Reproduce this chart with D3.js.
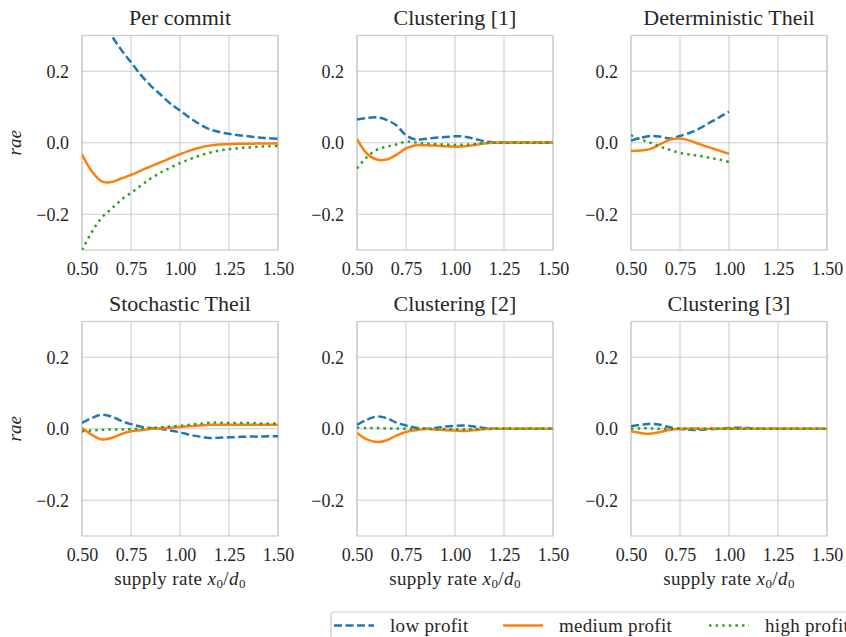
<!DOCTYPE html>
<html>
<head>
<meta charset="utf-8">
<script src="https://cdn.jsdelivr.net/npm/d3@7"></script>
<style>
  body { margin: 0; background: #fff; }
  svg, svg text { font-family: "Liberation Serif", "DejaVu Serif", serif; }
  .grid line { stroke: #cccccc; stroke-width: 1.1; }
</style>
</head>
<body>
<svg id="chart" width="846" height="637"></svg>
<script>
// x positions (supply rate x0/d0)
const xFull = [0.50, 0.55, 0.60, 0.65, 0.70, 0.75, 0.80, 0.85, 0.90, 0.95, 1.00,
               1.05, 1.10, 1.15, 1.20, 1.25, 1.30, 1.35, 1.40, 1.45, 1.50];
const xHalf = [0.50, 0.55, 0.60, 0.65, 0.70, 0.75, 0.80, 0.85, 0.90, 0.95, 1.00];

const xTicks = [0.50, 0.75, 1.00, 1.25, 1.50];
const yTicks = [-0.2, 0.0, 0.2];
const seriesNames = ["low profit", "medium profit", "high profit"];
const titles = ["Per commit", "Clustering [1]", "Deterministic Theil",
                "Stochastic Theil", "Clustering [2]", "Clustering [3]"];

// Per commit
const perCommitLow  = [0.43, 0.39, 0.34, 0.30, 0.26, 0.225, 0.19, 0.16, 0.135, 0.11, 0.09,
                       0.07, 0.052, 0.038, 0.030, 0.025, 0.021, 0.018, 0.015, 0.013, 0.011];
const perCommitMed  = [-0.032, -0.080, -0.108, -0.110, -0.100, -0.090, -0.078, -0.066, -0.055, -0.043, -0.032,
                       -0.022, -0.014, -0.008, -0.005, -0.004, -0.003, -0.003, -0.002, -0.002, -0.002];
const perCommitHigh = [-0.30, -0.25, -0.21, -0.185, -0.16, -0.14, -0.12, -0.10, -0.084, -0.07, -0.057,
                       -0.046, -0.036, -0.028, -0.022, -0.018, -0.015, -0.013, -0.011, -0.010, -0.009];

// Clustering [1]
const clust1Low  = [0.065, 0.069, 0.071, 0.064, 0.049, 0.021, 0.009, 0.011, 0.014, 0.016, 0.018,
                    0.017, 0.011, 0.004, 0.001, 0.001, 0.001, 0.001, 0.001, 0.001, 0.001];
const clust1Med  = [0.010, -0.030, -0.047, -0.047, -0.034, -0.016, -0.007, -0.007, -0.008, -0.010, -0.011,
                    -0.010, -0.006, -0.002, 0.000, 0.000, 0.000, 0.000, 0.000, 0.000, 0.000];
const clust1High = [-0.072, -0.040, -0.020, -0.011, -0.005, 0.003, 0.001, -0.002, -0.004, -0.005, -0.006,
                    -0.005, -0.004, -0.001, 0.000, 0.000, 0.000, 0.000, 0.000, 0.000, 0.000];

// Deterministic Theil (only up to 1.0)
const detLow  = [0.006, 0.014, 0.019, 0.017, 0.012, 0.019, 0.028, 0.040, 0.056, 0.071, 0.087];
const detMed  = [-0.023, -0.022, -0.017, -0.004, 0.009, 0.012, 0.006, -0.004, -0.013, -0.022, -0.031];
const detHigh = [0.021, 0.009, 0.000, -0.011, -0.020, -0.028, -0.033, -0.037, -0.042, -0.047, -0.054];

// Stochastic Theil
const stochLow  = [0.016, 0.030, 0.039, 0.034, 0.022, 0.013, 0.006, 0.002, 0.000, -0.005, -0.010,
                   -0.017, -0.022, -0.026, -0.025, -0.024, -0.023, -0.022, -0.022, -0.021, -0.021];
const stochMed  = [0.002, -0.017, -0.030, -0.026, -0.015, -0.007, -0.004, -0.001, 0.001, 0.003, 0.005,
                   0.007, 0.009, 0.011, 0.011, 0.011, 0.011, 0.011, 0.011, 0.011, 0.011];
const stochHigh = [-0.007, -0.005, -0.003, -0.002, -0.002, -0.001, 0.000, 0.002, 0.004, 0.006, 0.008,
                   0.011, 0.014, 0.017, 0.017, 0.016, 0.016, 0.016, 0.015, 0.015, 0.015];

// Clustering [2]
const clust2Low  = [0.011, 0.025, 0.034, 0.030, 0.017, 0.009, 0.003, 0.000, 0.002, 0.006, 0.008,
                    0.009, 0.006, 0.002, 0.000, 0.000, 0.000, 0.000, 0.000, 0.000, 0.000];
const clust2Med  = [-0.012, -0.030, -0.037, -0.033, -0.019, -0.009, -0.004, -0.001, -0.002, -0.004, -0.005,
                    -0.006, -0.004, -0.001, 0.000, 0.000, 0.000, 0.000, 0.000, 0.000, 0.000];
const clust2High = [0.003, 0.002, 0.002, 0.001, 0.001, 0.000, 0.000, 0.000, -0.001, -0.001, -0.002,
                    -0.002, -0.001, 0.000, 0.000, 0.000, 0.000, 0.000, 0.000, 0.000, 0.000];

// Clustering [3]
const clust3Low  = [0.007, 0.011, 0.014, 0.011, 0.004, -0.001, -0.003, -0.003, -0.001, 0.000, 0.002,
                    0.003, 0.002, 0.000, 0.000, 0.000, 0.000, 0.000, 0.000, 0.000, 0.000];
const clust3Med  = [-0.007, -0.012, -0.014, -0.009, -0.003, 0.000, 0.001, 0.000, 0.000, 0.000, 0.000,
                    0.000, 0.000, 0.000, 0.000, 0.000, 0.000, 0.000, 0.000, 0.000, 0.000];
const clust3High = [0.000, 0.001, 0.001, 0.000, 0.000, 0.000, 0.000, 0.000, 0.000, 0.000, 0.000,
                    0.000, 0.000, 0.000, 0.000, 0.000, 0.000, 0.000, 0.000, 0.000, 0.000];

const panels = [
  {title: titles[0], x: xFull, ys: [perCommitLow, perCommitMed, perCommitHigh]},
  {title: titles[1], x: xFull, ys: [clust1Low, clust1Med, clust1High]},
  {title: titles[2], x: xHalf, ys: [detLow, detMed, detHigh]},
  {title: titles[3], x: xFull, ys: [stochLow, stochMed, stochHigh]},
  {title: titles[4], x: xFull, ys: [clust2Low, clust2Med, clust2High]},
  {title: titles[5], x: xFull, ys: [clust3Low, clust3Med, clust3High]}
];

const colors = ["#1f77b4", "#ff7f0e", "#2ca02c"];
const dashes = ["8,3.5", null, "2.5,4.1"];
const textColor = "#262626";

const svg = d3.select("#chart");
const panelW = 196, panelH = 214.5;
const lefts = [82, 357, 631];
const tops = [35.5, 321.5];

const x = d3.scaleLinear().domain([0.5, 1.5]).range([0, panelW]);
const y = d3.scaleLinear().domain([-0.3, 0.3]).range([panelH, 0]);
const fmtY = v => (v < 0 ? "\u2212" : "") + Math.abs(v).toFixed(1);

panels.forEach(function(p, i) {
  const col = i % 3, row = Math.floor(i / 3);
  const g = svg.append("g").attr("transform", "translate(" + lefts[col] + "," + tops[row] + ")");

  g.append("clipPath").attr("id", "clip" + i)
    .append("rect").attr("width", panelW).attr("height", panelH);

  // grid
  const grid = g.append("g").attr("class", "grid");
  grid.selectAll(".vx").data(xTicks).enter().append("line")
    .attr("x1", d => x(d)).attr("x2", d => x(d)).attr("y1", 0).attr("y2", panelH);
  grid.selectAll(".hy").data(yTicks).enter().append("line")
    .attr("x1", 0).attr("x2", panelW).attr("y1", d => y(d)).attr("y2", d => y(d));
  g.append("rect").attr("width", panelW).attr("height", panelH)
    .attr("fill", "none").attr("stroke", "#cccccc").attr("stroke-width", 1.25);

  // axes labels
  const xAxis = g.append("g").attr("transform", "translate(0," + panelH + ")")
    .call(d3.axisBottom(x).tickValues(xTicks).tickFormat(d3.format(".2f")).tickSize(0).tickPadding(12));
  const yAxis = g.append("g")
    .call(d3.axisLeft(y).tickValues(yTicks).tickFormat(fmtY).tickSize(0).tickPadding(13));
  [xAxis, yAxis].forEach(a => {
    a.attr("font-family", null).attr("font-size", null);
    a.select(".domain").remove();
    a.selectAll("text").style("font-family", "Liberation Serif").style("font-size", "18px")
      .attr("fill", textColor);
  });

  // title
  g.append("text").attr("x", panelW / 2).attr("y", -11)
    .attr("text-anchor", "middle").style("font-size", "22px").attr("fill", textColor)
    .text(p.title);

  // lines
  const lines = g.append("g").attr("clip-path", "url(#clip" + i + ")");
  p.ys.forEach(function(vals, s) {
    const pts = vals.map((v, k) => [p.x[k], v]);
    lines.append("path")
      .datum(pts)
      .attr("fill", "none")
      .attr("stroke", colors[s])
      .attr("stroke-width", 2.5)
      .attr("stroke-dasharray", dashes[s])
      .attr("d", d3.line().x(d => x(d[0])).y(d => y(d[1])).curve(d3.curveCatmullRom.alpha(0.5)));
  });

  if (col === 0) {
    g.append("text")
      .attr("transform", "translate(-61," + (panelH / 2) + ") rotate(-90)")
      .attr("text-anchor", "middle").style("font-size", "19px").attr("font-style", "italic")
      .attr("fill", textColor).text("rae");
  }
  if (row === 1) {
    const t = g.append("text").attr("x", panelW / 2).attr("y", panelH + 49)
      .attr("text-anchor", "middle").style("font-size", "19px").attr("fill", textColor)
      .attr("letter-spacing", 0.4);
    t.append("tspan").text("supply rate ");
    t.append("tspan").attr("font-style", "italic").text("x");
    t.append("tspan").style("font-size", "13px").attr("dy", 3).text("0");
    t.append("tspan").attr("dy", -3).text("/");
    t.append("tspan").attr("font-style", "italic").text("d");
    t.append("tspan").style("font-size", "13px").attr("dy", 3).text("0");
  }
});

// legend
const legend = svg.append("g").attr("transform", "translate(331,612)");
legend.append("rect").attr("width", 540).attr("height", 40).attr("rx", 3)
  .attr("fill", "#fff").attr("stroke", "#cccccc").attr("stroke-width", 1.2);
const legendX = [3, 172, 378];
seriesNames.forEach(function(name, s) {
  const lg = legend.append("g").attr("transform", "translate(" + legendX[s] + ",13.5)");
  lg.append("line").attr("x1", 0).attr("x2", 40).attr("y1", 0).attr("y2", 0)
    .attr("stroke", colors[s]).attr("stroke-width", 2.5).attr("stroke-dasharray", dashes[s]);
  lg.append("text").attr("x", 56).attr("y", 6).style("font-size", "19px")
    .attr("letter-spacing", 0.3).attr("fill", textColor).text(name);
});
</script>
</body>
</html>
